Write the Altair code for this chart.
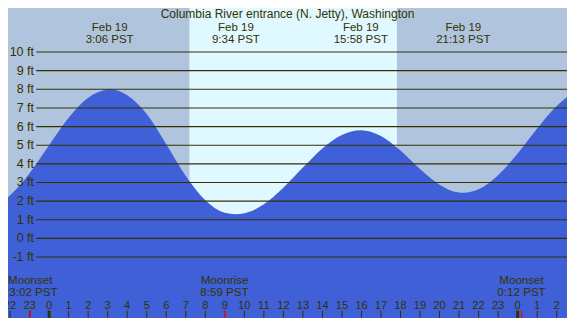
import altair as alt
import pandas as pd

# ---------------- layout ----------------
W, H = 559, 310
FONT = "Liberation Sans"
FG = "#333300"
NIGHT = "#B0C4DE"
DAY = "#E0F8FF"
WATER = "#4060D8"

# x: hours since midnight Feb 19 (PST); y: feet
X0, X1 = -2.107, 26.529
Y0, Y1 = -4.27, 12.362

TITLE = "Columbia River entrance (N. Jetty), Washington"

# ---------------- data ----------------
tide_t = [-2.2, -2, -1, 0, 1, 2, 3, 3.1, 4, 5, 6, 7, 8, 9, 9.567, 10, 11, 12, 13, 14,
          15, 15.967, 17, 18, 19, 20, 21, 21.217, 22, 23, 24, 25, 26, 26.6]
tide_ft = [2.15, 2.32, 3.50, 5.00, 6.47, 7.55, 7.99, 8.00, 7.68, 6.67, 5.05, 3.35, 2.05, 1.38,
           1.30, 1.35, 1.83, 2.72, 3.80, 4.83, 5.55, 5.80, 5.49, 4.71, 3.72, 2.88, 2.46,
           2.45, 2.64, 3.39, 4.56, 5.90, 7.10, 7.65]

ext_t = [3.1, 9.567, 15.967, 21.217]
ext_date = ["Feb 19", "Feb 19", "Feb 19", "Feb 19"]
ext_time = ["3:06 PST", "9:34 PST", "15:58 PST", "21:13 PST"]

moon_t = [-0.967, 8.983, 24.2]
moon_event = ["Moonset", "Moonrise", "Moonset"]
moon_time = ["23:02 PST", "8:59 PST", "0:12 PST"]

sunrise_h = 7 + 12 / 60
sunset_h = 17 + 49 / 60

grid_ft = list(range(-1, 11))
grid_label = [f"{v} ft" for v in grid_ft]

hours = list(range(-2, 27))
hour_label = [str(h % 24) for h in hours]

# ---------------- frames ----------------
bg_df = pd.DataFrame({
    "start": [X0, sunrise_h, sunset_h],
    "end": [sunrise_h, sunset_h, X1],
    "color": [NIGHT, DAY, NIGHT],
})
tide_df = pd.DataFrame({"t": tide_t, "ft": tide_ft})
tide_df["base"] = Y0
ext_df = pd.DataFrame({"t": ext_t, "date": ext_date, "time": ext_time})
moon_df = pd.DataFrame({"t": moon_t, "event": moon_event, "time": moon_time})
grid_df = pd.DataFrame({"ft": grid_ft, "label": grid_label})
hour_df = pd.DataFrame({"t": hours, "label": hour_label})
mid_df = pd.DataFrame({"t": [h for h in hours if h % 24 == 0]})
title_df = pd.DataFrame({"title": [TITLE]})

xs = alt.Scale(domain=[X0, X1], nice=False, zero=False)
ys = alt.Scale(domain=[Y0, Y1], nice=False, zero=False)

bg = alt.Chart(bg_df).mark_rect().encode(
    x=alt.X("start:Q", scale=xs, axis=None),
    x2="end:Q",
    y=alt.value(0),
    y2=alt.value(H),
    color=alt.Color("color:N", scale=None),
)

area = alt.Chart(tide_df).mark_area(interpolate="monotone", color=WATER, clip=True).encode(
    x=alt.X("t:Q", scale=xs, axis=None),
    y=alt.Y("ft:Q", scale=ys, axis=None),
    y2="base:Q",
)

grid = alt.Chart(grid_df).mark_rule(color=FG, strokeWidth=1.1).encode(
    y=alt.Y("ft:Q", scale=ys, axis=None),
    x=alt.value(28.2),
    x2=alt.value(W),
)

ylab = alt.Chart(grid_df).mark_text(
    align="right", baseline="middle", font=FONT, fontSize=12.5, color=FG
).encode(
    y=alt.Y("ft:Q", scale=ys, axis=None),
    x=alt.value(26),
    text="label:N",
)

title = alt.Chart(title_df).mark_text(
    align="center", baseline="alphabetic", font=FONT, fontSize=12, color=FG
).encode(x=alt.value(W / 2), y=alt.value(10.2), text="title:N")

ext1 = alt.Chart(ext_df).mark_text(
    align="center", baseline="alphabetic", font=FONT, fontSize=11.5, color=FG
).encode(x=alt.X("t:Q", scale=xs, axis=None), y=alt.value(22.5), text="date:N")

ext2 = alt.Chart(ext_df).mark_text(
    align="center", baseline="alphabetic", font=FONT, fontSize=11.5, color=FG
).encode(x=alt.X("t:Q", scale=xs, axis=None), y=alt.value(34.7), text="time:N")

moon1 = alt.Chart(moon_df).mark_text(
    align="center", baseline="alphabetic", font=FONT, fontSize=11.6, color=FG
).encode(x=alt.X("t:Q", scale=xs, axis=None), y=alt.value(275.6), text="event:N")

moon2 = alt.Chart(moon_df).mark_text(
    align="center", baseline="alphabetic", font=FONT, fontSize=11.6, color=FG
).encode(x=alt.X("t:Q", scale=xs, axis=None), y=alt.value(287.6), text="time:N")

hlab = alt.Chart(hour_df).mark_text(
    align="center", baseline="alphabetic", font=FONT, fontSize=11.2, color=FG
).encode(x=alt.X("t:Q", scale=xs, axis=None), y=alt.value(300.6), text="label:N")

ticks = alt.Chart(hour_df).mark_rule(color=FG, strokeWidth=1).encode(
    x=alt.X("t:Q", scale=xs, axis=None), y=alt.value(302.7), y2=alt.value(H)
)

mticks = alt.Chart(mid_df).mark_rule(color=FG, strokeWidth=3).encode(
    x=alt.X("t:Q", scale=xs, axis=None), y=alt.value(302.7), y2=alt.value(H)
)

moonticks = alt.Chart(moon_df).mark_rule(color="#FF0000", strokeWidth=1.3).encode(
    x=alt.X("t:Q", scale=xs, axis=None), y=alt.value(302.7), y2=alt.value(H)
)

chart = alt.layer(
    bg, area, grid, ylab, title, ext1, ext2, moon1, moon2, hlab, ticks, mticks, moonticks
).properties(
    width=W,
    height=H,
    padding=0,
    autosize=alt.AutoSizeParams(type="none"),
    background="white",
).configure_view(stroke=None)

chart.save("out.html", embed_options={"renderer": "svg", "actions": False})
